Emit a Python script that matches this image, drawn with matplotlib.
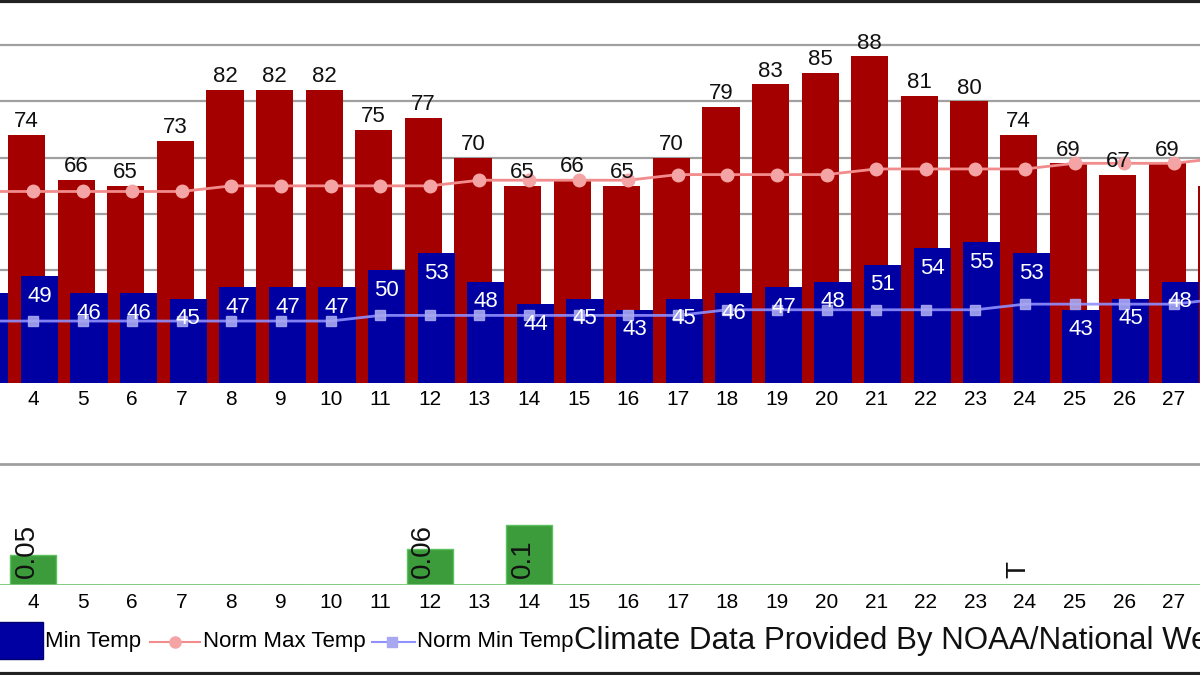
import numpy as np
import matplotlib.pyplot as plt
from matplotlib.patches import Rectangle
from matplotlib.lines import Line2D

plt.rcParams['font.family'] = ['Liberation Sans', 'DejaVu Sans']

# daily data, days 3..28 (edges are cropped in the picture)
days = np.arange(3, 29)
max_temp = [np.nan, 74, 66, 65, 73, 82, 82, 82, 75, 77, 70, 65, 66, 65, 70,
            79, 83, 85, 88, 81, 80, 74, 69, 67, 69, 65]
min_temp = [46, 49, 46, 46, 45, 47, 47, 47, 50, 53, 48, 44, 45, 43, 45,
            46, 47, 48, 51, 54, 55, 53, 43, 45, 48, np.nan]
norm_max = [64, 64, 64, 64, 64, 65, 65, 65, 65, 65, 66, 66, 66, 66, 67,
            67, 67, 67, 68, 68, 68, 68, 69, 69, 69, 70]
norm_min = [41, 41, 41, 41, 41, 41, 41, 41, 42, 42, 42, 42, 42, 42, 42,
            43, 43, 43, 43, 43, 43, 44, 44, 44, 44, 45]
precip = [0, 0.05, 0, 0, 0, 0, 0, 0, 0, 0.06, 0, 0.1, 0, 0, 0,
          0, 0, 0, 0, 0, 0, 0, 0, 0, 0, 0]
precip_lbl = ['', '0.05', '', '', '', '', '', '', '', '0.06', '', '0.1', '', '', '',
              '', '', '', '', '', '', 'T', '', '', '', '']

RED = '#a40000'
BLUE = '#0000a2'
off = 0.13      # red/blue bar offset from the day centre
w = 0.75
xlim = (3.335, 27.528)

fig = plt.figure(figsize=(12, 6.75), dpi=100)

# ---- temperature panel
ax = fig.add_axes([0, 292 / 675, 1, 383 / 675])
ax.bar(days - off, max_temp, width=w, color=RED, zorder=2)
ax.bar(days + off, min_temp, width=w, color=BLUE, zorder=3)
ax.plot(days, norm_max, color='#f28c8c', lw=2, marker='o', ms=9,
        mfc='#f4a4a4', mec='#f4a4a4', zorder=4)
ax.plot(days, norm_min, color='#9090ff', lw=2, marker='s', ms=7,
        mfc='#a8a8f0', mec='#a8a8f0', alpha=0.9, zorder=4)
for d, v in zip(days, max_temp):
    if not np.isnan(v):
        ax.annotate(str(v), (d - off, v), xytext=(0, 2), textcoords='offset points',
                    ha='center', va='bottom', fontsize=16, color='#111111', zorder=5)
for d, v in zip(days, min_temp):
    if not np.isnan(v):
        ax.annotate(str(v), (d + off, v), xytext=(0, -7), textcoords='offset points',
                    ha='center', va='top', fontsize=16, color='white', zorder=5)
ax.set_yticks(range(40, 100, 10))
ax.grid(axis='y', color='#a0a0a0', lw=1.6)
ax.set_axisbelow(True)
ax.set_xticks(days)
ax.set_xticklabels([str(d) for d in days], fontsize=15)
ax.tick_params(axis='x', length=0, pad=5)
ax.tick_params(axis='y', length=0, labelleft=False)
ax.set_xlim(*xlim)
ax.set_ylim(30, 30 + 383 / 5.633)
for s in ax.spines.values():
    s.set_visible(False)

# ---- precipitation panel
ax2 = fig.add_axes([0, 90 / 675, 1, 121 / 675])
ax2.bar(days, precip, width=0.93, color='#3c9c3c', edgecolor='#5cc05c', lw=1, zorder=2)
ax2.axhline(0, color='#7cc87c', lw=2, zorder=3)
for d, t in zip(days, precip_lbl):
    if t:
        ax2.text(d - off, 0.012, t, rotation=90, ha='center', va='bottom',
                 fontsize=20, color='#111111', zorder=4)
ax2.set_yticks([])
ax2.set_xticks(days)
ax2.set_xticklabels([str(d) for d in days], fontsize=15)
ax2.tick_params(axis='x', length=0, pad=6)
ax2.set_xlim(*xlim)
ax2.set_ylim(0, 0.2)
for k, s in ax2.spines.items():
    s.set_visible(k == 'top')
ax2.spines['top'].set_color('#a0a0a0')
ax2.spines['top'].set_linewidth(2)

# ---- legend strip and frame (pixel coordinates)
lg = fig.add_axes([0, 0, 1, 1])
lg.set_xlim(0, 1200)
lg.set_ylim(675, 0)
lg.axis('off')
lg.add_patch(Rectangle((-5, 622), 48, 37, facecolor=BLUE, edgecolor='#000070', lw=1))
lg.text(45, 642, 'Min Temp', fontsize=16, va='center', ha='left')
lg.add_line(Line2D([150, 200], [642, 642], color='#f28c8c', lw=1.5))
lg.plot([175], [642], 'o', ms=8, color='#f4a4a4')
lg.text(203, 642, 'Norm Max Temp', fontsize=16, va='center', ha='left')
lg.add_line(Line2D([372, 415], [642, 642], color='#9090ff', lw=1.5))
lg.plot([392], [642], 's', ms=7, color='#a8a8f0')
lg.text(417, 642, 'Norm Min Temp', fontsize=16, va='center', ha='left')
lg.text(574, 641, 'Climate Data Provided By NOAA/National Weather Service',
        fontsize=22.5, va='center', ha='left', color='#111111')
lg.add_line(Line2D([0, 1200], [1, 1], color='#222222', lw=3))
lg.add_line(Line2D([0, 1200], [674, 674], color='#222222', lw=3))

fig.savefig('out.png', dpi=100)
